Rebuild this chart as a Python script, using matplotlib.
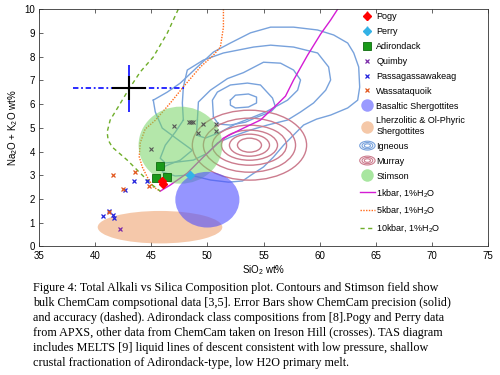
import matplotlib
matplotlib.use("Agg")
import matplotlib.pyplot as plt
from matplotlib.patches import Ellipse
from matplotlib.legend_handler import HandlerBase
from matplotlib.lines import Line2D

plt.rcParams["font.family"] = ["Liberation Sans", "DejaVu Sans"]
plt.rcParams["mathtext.fontset"] = "custom"
plt.rcParams["mathtext.rm"] = "Liberation Sans"
plt.rcParams["mathtext.it"] = "Liberation Sans:italic"
plt.rcParams["mathtext.bf"] = "Liberation Sans:bold"

# ---- point data (SiO2 wt%, Na2O+K2O wt%) ----
pogy_x = [45.95, 46.05]
pogy_y = [2.74, 2.64]
pogy_err = [0.08, 0.08]

perry_x = [48.42]
perry_y = [3.0]
perry_err = [0.08]

adirondack_x = [45.74, 45.42, 46.37]
adirondack_y = [3.38, 2.88, 2.91]

quimby_x = [42.23]
quimby_y = [0.72]

passag_x = [43.42, 44.64, 42.68, 40.71, 41.28, 41.63, 41.67]
passag_y = [2.77, 2.76, 2.36, 1.28, 1.48, 1.31, 1.21]

wassat_x = [41.63, 43.54, 42.44, 44.82, 41.25]
wassat_y = [3.01, 3.15, 2.42, 2.56, 1.45]

ireson_x = [47.05, 48.33, 48.54, 48.75, 49.58, 49.13, 50.74, 50.74, 44.94]
ireson_y = [5.09, 5.24, 5.24, 5.24, 5.17, 4.77, 5.15, 4.86, 4.10]

# ChemCam precision / accuracy error bars
err_x, err_y = 43.0, 6.67
precision = (1.5, 0.5)
accuracy = (5.0, 1.0)

# ---- fields (centre x, centre y, width, height) ----
stimson_field = (47.6, 4.27, 7.46, 3.25)
basaltic_field = (50.0, 1.97, 5.71, 2.35)
lherz_field = (45.78, 0.81, 11.1, 1.37)

# Murray contours (concentric)
murray_centre = (53.75, 4.27)
murray_widths = [2.14, 3.57, 5.0, 6.61, 8.21, 10.18]
murray_heights = [0.59, 0.93, 1.27, 1.69, 2.28, 2.95]

# Igneous contours (traced)
ign1_x = [52.05, 52.5, 53.66, 54.38, 54.38, 53.66, 52.5, 52.05]
ign1_y = [6.17, 6.38, 6.43, 6.30, 6.05, 5.88, 5.84, 5.96]
ign2_x = [50.54, 50.45, 50.89, 52.05, 53.57, 54.73, 55.80, 56.07, 55.63, 54.46, 53.39, 52.05, 50.98]
ign2_y = [5.46, 6.17, 6.51, 6.81, 6.89, 6.81, 6.26, 5.88, 5.67, 5.46, 5.24, 5.12, 5.16]
ign3_x = [49.11, 49.20, 50.27, 51.79, 53.21, 55.0, 56.52, 57.68, 58.30, 58.04, 57.14, 56.34,
          55.18, 53.84, 52.5, 51.16, 49.82, 49.02]
ign3_y = [5.33, 6.09, 6.59, 7.08, 7.33, 7.77, 7.73, 7.44, 7.02, 6.59, 6.17, 5.96,
          5.67, 5.41, 5.16, 4.82, 4.57, 4.70]
ign4_x = [47.86, 47.77, 47.86, 48.21, 49.64, 51.43, 54.11, 55.63, 57.68, 59.82, 60.80, 60.98,
          60.54, 59.46, 58.30, 57.14, 55.36, 53.84, 52.05, 50.89, 50.0, 48.75, 47.32, 46.25,
          45.80, 46.25, 47.14]
ign4_y = [5.33, 6.05, 6.72, 7.44, 7.86, 8.16, 8.41, 8.49, 8.41, 8.16, 7.57, 7.02,
          6.59, 6.05, 5.67, 5.33, 5.12, 4.91, 4.61, 4.36, 3.93, 3.64, 3.56, 3.52,
          3.72, 4.27, 4.82]
ign5_x = [45.18, 45.36, 45.98, 47.41, 48.66, 47.59, 46.25, 45.98, 47.14, 48.48, 50.27, 51.88,
          53.13, 54.02, 55.0, 55.89, 56.79, 57.68, 58.57, 59.73, 60.98, 62.5, 63.39, 63.57,
          63.48, 63.04, 62.5, 61.25, 59.82, 57.68, 55.63, 53.84, 52.05, 50.54, 49.11, 47.59,
          46.43]
ign5_y = [6.17, 5.67, 4.99, 4.49, 4.06, 3.64, 3.39, 3.14, 2.97, 3.01, 2.80, 2.71,
          2.76, 3.05, 3.35, 3.77, 4.27, 4.70, 5.12, 5.37, 5.54, 5.84, 6.17, 6.72,
          7.57, 8.16, 8.58, 8.92, 9.13, 9.25, 9.25, 9.01, 8.58, 8.20, 7.57, 6.89,
          6.51]
igneous = [(ign1_x, ign1_y), (ign2_x, ign2_y), (ign3_x, ign3_y), (ign4_x, ign4_y), (ign5_x, ign5_y)]

# MELTS liquid lines of descent
melts1_x = [45.80, 46.70, 48.21, 49.64, 51.43, 53.21, 54.73, 56.34, 56.96, 57.68, 58.93, 60.09, 60.98, 61.61]
melts1_y = [2.33, 2.59, 3.09, 3.77, 4.57, 4.99, 5.33, 6.05, 6.34, 7.02, 8.07, 8.96, 9.55, 10.01]
melts5_x = [51.43, 51.43, 51.16, 50.54, 49.38, 47.86, 46.70, 45.36, 44.46, 44.02, 43.93, 44.20, 44.64, 45.18, 45.80]
melts5_y = [10.01, 9.25, 8.41, 8.07, 7.57, 6.73, 6.05, 5.32, 4.95, 4.37, 3.78, 3.35, 2.93, 2.51, 2.33]
melts10_x = [47.41, 46.43, 45.18, 44.02, 42.95, 42.05, 41.34, 41.07, 41.16, 41.52, 42.86, 44.02, 45.09, 45.80]
melts10_y = [10.01, 9.00, 7.99, 7.36, 6.59, 5.88, 5.33, 4.82, 4.49, 4.19, 3.64, 3.09, 2.59, 2.33]

caption = [
    "Figure 4: Total Alkali vs Silica Composition plot. Contours and Stimson field show",
    "bulk ChemCam compsotional data [3,5]. Error Bars show ChemCam precision (solid)",
    "and accuracy (dashed). Adirondack class compositions from [8].Pogy and Perry data",
    "from APXS, other data from ChemCam taken on Ireson Hill (crosses). TAS diagram",
    "includes MELTS [9] liquid lines of descent consistent with low pressure, shallow",
    "crustal fractionation of Adirondack-type, low H2O primary melt.",
]

ign_color = "#78a2dc"
murray_color = "#cc7c8e"


class HandlerRings(HandlerBase):
    def __init__(self, color):
        super().__init__()
        self.color = color

    def create_artists(self, legend, orig_handle, xdescent, ydescent, width, height, fontsize, trans):
        cx = width / 2 - xdescent
        cy = height / 2 - ydescent
        rings = []
        for s in (1.0, 0.7, 0.4):
            rings.append(Ellipse((cx, cy), width * s, height * 1.4 * s, fill=False,
                                 edgecolor=self.color, lw=0.8, transform=trans))
        return rings


fig = plt.figure(figsize=(5, 3.75), dpi=100)
ax = fig.add_axes([0.078, 0.343, 0.898, 0.632])

for cx, cy in igneous:
    ax.plot(cx + cx[:1], cy + cy[:1], color=ign_color, lw=1.0, zorder=1)
for w, h in zip(murray_widths, murray_heights):
    ax.add_patch(Ellipse(murray_centre, w, h, fill=False, edgecolor=murray_color, lw=1.0, zorder=1))

l1, = ax.plot(melts1_x, melts1_y, color="#d41cd4", lw=1.0, zorder=1)
l5, = ax.plot(melts5_x, melts5_y, color="#ff6a1a", lw=1.0, ls=(0, (1, 1)), zorder=1)
l10, = ax.plot(melts10_x, melts10_y, color="#6fae2a", lw=1.0, ls=(0, (3, 2.5)), zorder=1)

ax.add_patch(Ellipse(lherz_field[:2], lherz_field[2], lherz_field[3],
                     facecolor="#ee9c64", alpha=0.55, edgecolor="none", zorder=2))
ax.add_patch(Ellipse(stimson_field[:2], stimson_field[2], stimson_field[3],
                     facecolor="#77d465", alpha=0.55, edgecolor="none", zorder=2))
ax.add_patch(Ellipse(basaltic_field[:2], basaltic_field[2], basaltic_field[3],
                     facecolor="#4f4fff", alpha=0.6, edgecolor="none", zorder=2))

eb_acc = ax.errorbar(err_x, err_y, xerr=accuracy[0], yerr=accuracy[1], fmt="none",
                     ecolor="#1a1aff", elinewidth=1.3, capsize=0, zorder=3)
eb_acc[2][0].set_linestyle((0, (3, 1.5, 1, 1.5)))
ax.errorbar(err_x, err_y, xerr=precision[0], yerr=precision[1], fmt="none",
            ecolor="black", elinewidth=1.5, capsize=0, zorder=4)

ax.plot(ireson_x, ireson_y, "x", color="#555555", ms=3.5, mew=0.8, zorder=3)
h_quimby, = ax.plot(quimby_x, quimby_y, "x", color="#7a2aa8", ms=3.5, mew=0.9, zorder=3)
h_passag, = ax.plot(passag_x, passag_y, "x", color="#2222dd", ms=3.5, mew=0.9, zorder=3)
h_wassat, = ax.plot(wassat_x, wassat_y, "x", color="#e2571e", ms=3.5, mew=0.9, zorder=3)
h_adir, = ax.plot(adirondack_x, adirondack_y, "s", color="#1a9a1a", mec="#0d6a0d", ms=5.5, mew=0.6, zorder=3)
h_pogy = ax.errorbar(pogy_x, pogy_y, yerr=pogy_err, fmt="D", color="red", ms=4,
                     elinewidth=1, capsize=0, zorder=4)
h_perry = ax.errorbar(perry_x, perry_y, yerr=perry_err, fmt="D", color="#33b2e6", ms=4,
                      elinewidth=1, capsize=0, zorder=4)

h_basalt = Line2D([], [], ls="none", marker="o", ms=9, mfc="#9a9aff", mec="none")
h_lherz = Line2D([], [], ls="none", marker="o", ms=9, mfc="#f5c8a8", mec="none")
h_stim = Line2D([], [], ls="none", marker="o", ms=9, mfc="#a8e6a0", mec="none")
h_ign = Line2D([], [], color=ign_color)
h_mur = Line2D([], [], color=murray_color)

handles = [h_pogy, h_perry, h_adir, h_quimby, h_passag, h_wassat, h_basalt, h_lherz,
           h_ign, h_mur, h_stim, l1, l5, l10]
labels = ["Pogy", "Perry", "Adirondack", "Quimby", "Passagassawakeag", "Wassataquoik",
          "Basaltic Shergottites", "Lherzolitic & Ol-Phyric\nShergottites", "Igneous",
          "Murray", "Stimson", "1kbar, 1%H$_2$O", "5kbar, 1%H$_2$O", "10kbar, 1%H$_2$O"]
ax.legend(handles, labels, loc="upper right", bbox_to_anchor=(1 - 20 / 449, 1), borderaxespad=0,
          fontsize=6.5, handlelength=1.7, handletextpad=0.15, labelspacing=0.655,
          frameon=False, borderpad=0.3,
          handler_map={h_ign: HandlerRings(ign_color), h_mur: HandlerRings(murray_color)})

ax.set_xlim(35, 75)
ax.set_ylim(0, 10)
ax.set_xticks(range(35, 80, 5))
ax.set_yticks(range(0, 11))
ax.tick_params(direction="in", length=3, width=0.5, top=True, right=False, labelsize=7, pad=3,
               colors="#262626", labelcolor="black")
for sp in ax.spines.values():
    sp.set_linewidth(0.6)
    sp.set_color("#333333")
ax.set_xlabel("SiO$_2$ wt%", fontsize=7, labelpad=2)
ax.set_ylabel("Na$_2$O + K$_2$O wt%", fontsize=7, labelpad=3)

for i, line in enumerate(caption):
    fig.text(0.066, 1 - (288 + 15 * i) / 375, line, family=["Liberation Serif", "DejaVu Serif"],
             fontsize=8.7, va="center", ha="left")

fig.savefig("out.png", dpi=100)
